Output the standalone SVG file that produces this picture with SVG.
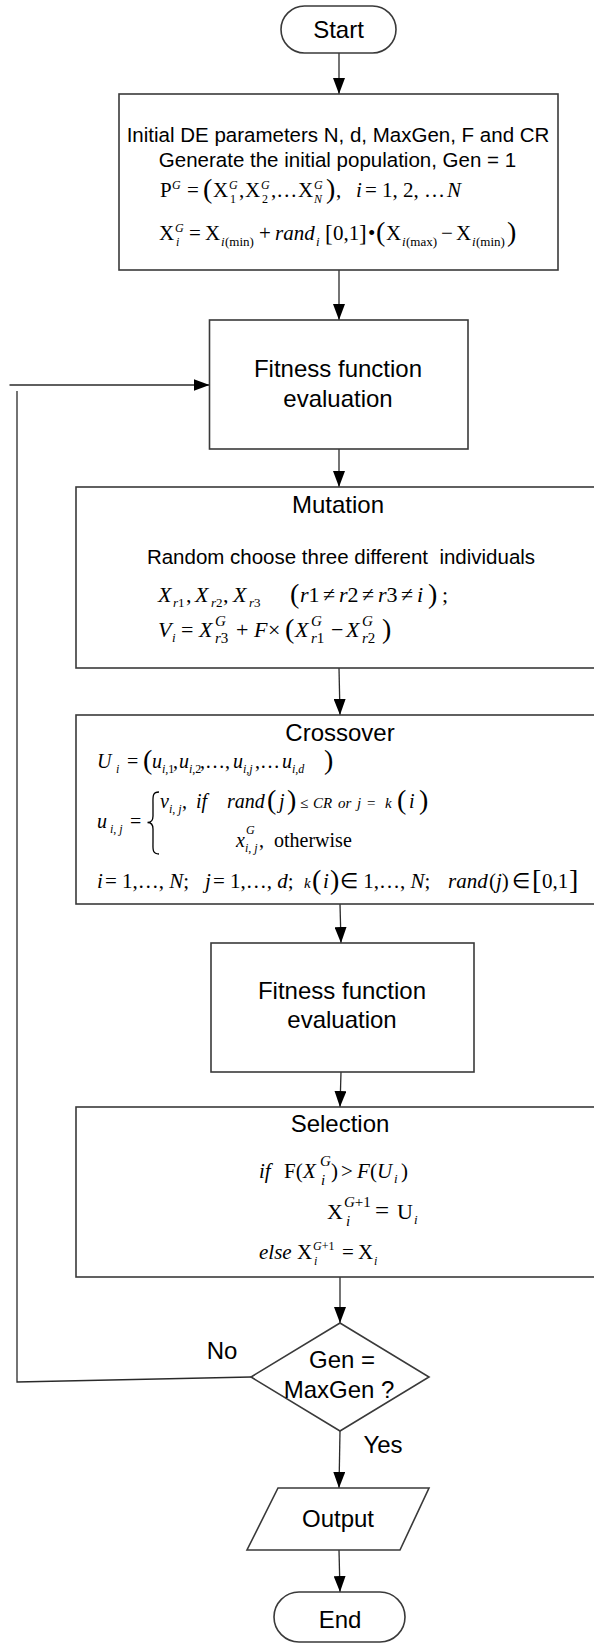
<svg xmlns="http://www.w3.org/2000/svg" width="594" height="1643" viewBox="0 0 594 1643">
<defs>
<marker id="arr" markerUnits="userSpaceOnUse" markerWidth="16" markerHeight="12" refX="16" refY="6" orient="auto">
<path d="M0,0 L16,6 L0,12 Z" fill="#000"/>
</marker>
<style>
.box{fill:#fff;stroke:#3a3a3a;stroke-width:1.6}
.conn{fill:none;stroke:#2a2a2a;stroke-width:1.3}
.lbl{font-family:"Liberation Sans",Arial,sans-serif;font-size:24px;fill:#000;text-anchor:middle}
.txt{font-family:"Liberation Sans",Arial,sans-serif;font-size:20.5px;fill:#000;text-anchor:middle;white-space:pre}
.m{font-family:"Liberation Serif","Times New Roman",serif;font-size:20px;fill:#000}
.m21{font-size:21px}
.m22{font-size:22px}
.it{font-style:italic}
.sm{font-size:12px}
.s13{font-size:13px}
.sb{font-size:15px}
.big{font-size:28px}
.br{font-size:23px}
.s15{font-size:15px}
</style>
</defs>

<g id="connectors">
<line class="conn" x1="339" y1="53" x2="339" y2="94" marker-end="url(#arr)"/>
<line class="conn" x1="339" y1="270" x2="339" y2="320" marker-end="url(#arr)"/>
<line class="conn" x1="9.5" y1="385" x2="209.5" y2="385" marker-end="url(#arr)"/>
<polyline class="conn" points="17,391 17,1382 251,1377"/>
<line class="conn" x1="339" y1="449" x2="339" y2="487" marker-end="url(#arr)"/>
<line class="conn" x1="339" y1="668" x2="340" y2="715" marker-end="url(#arr)"/>
<line class="conn" x1="340" y1="904" x2="341" y2="943" marker-end="url(#arr)"/>
<line class="conn" x1="341" y1="1072" x2="340" y2="1107" marker-end="url(#arr)"/>
<line class="conn" x1="340" y1="1277" x2="340" y2="1323" marker-end="url(#arr)"/>
<line class="conn" x1="340" y1="1431" x2="339" y2="1488" marker-end="url(#arr)"/>
<line class="conn" x1="339" y1="1550" x2="340" y2="1592" marker-end="url(#arr)"/>
</g>

<g id="start">
<rect class="box" x="281" y="6" width="115" height="47" rx="23.5"/>
<text class="lbl" x="338.5" y="38">Start</text>
</g>

<g id="init">
<rect class="box" x="119" y="94" width="439" height="176"/>
<text class="txt" x="338" y="142">Initial DE parameters N, d, MaxGen, F and CR</text>
<text class="txt" x="337.5" y="167">Generate the initial population, Gen = 1</text>
<text class="m m21">
<tspan x="160" y="197">P</tspan>
<tspan class="sm it" x="172" y="189">G</tspan>
<tspan x="187" y="197">=</tspan>
<tspan class="big" x="203" y="198">(</tspan>
<tspan x="213" y="197">X</tspan>
<tspan class="sm it" x="229" y="189">G</tspan>
<tspan class="sm" x="230" y="203">1</tspan>
<tspan x="239" y="197">,</tspan>
<tspan x="245" y="197">X</tspan>
<tspan class="sm it" x="261" y="189">G</tspan>
<tspan class="sm" x="262" y="203">2</tspan>
<tspan x="271" y="197">,…</tspan>
<tspan x="298" y="197">X</tspan>
<tspan class="sm it" x="314" y="189">G</tspan>
<tspan class="sm it" x="314" y="203">N</tspan>
<tspan class="big" x="326" y="198">)</tspan>
<tspan x="336" y="197">,</tspan>
<tspan class="it" x="356" y="197">i</tspan>
<tspan x="365" y="197">=</tspan>
<tspan x="382" y="197">1, 2, …</tspan>
<tspan class="it" x="447" y="197">N</tspan>
</text>
<text class="m m21">
<tspan x="159" y="240">X</tspan>
<tspan class="sm it" x="175" y="232">G</tspan>
<tspan class="sm it" x="176" y="246">i</tspan>
<tspan x="189" y="240">=</tspan>
<tspan x="205" y="240">X</tspan>
<tspan class="s13 it" x="221" y="246">i</tspan>
<tspan class="s13" x="225" y="246">(min)</tspan>
<tspan x="259" y="240">+</tspan>
<tspan class="it" x="275" y="240">rand</tspan>
<tspan class="s13 it" x="316" y="246">i</tspan>
<tspan class="br" x="325" y="241">[</tspan>
<tspan x="333" y="240">0,1</tspan>
<tspan class="br" x="359" y="241">]</tspan>
<tspan x="368" y="240">•</tspan>
<tspan class="big" x="376" y="241">(</tspan>
<tspan x="386" y="240">X</tspan>
<tspan class="s13 it" x="402" y="246">i</tspan>
<tspan class="s13" x="406" y="246">(max)</tspan>
<tspan x="441" y="240">−</tspan>
<tspan x="456" y="240">X</tspan>
<tspan class="s13 it" x="472" y="246">i</tspan>
<tspan class="s13" x="476" y="246">(min)</tspan>
<tspan class="big" x="507" y="241">)</tspan>
</text>
</g>

<g id="fitness1">
<rect class="box" x="209.5" y="320" width="258.5" height="129"/>
<text class="lbl" x="338" y="377">Fitness function</text>
<text class="lbl" x="338" y="407">evaluation</text>
</g>

<g id="mutation">
<rect class="box" x="76" y="487" width="540" height="181"/>
<text class="lbl" x="338" y="513">Mutation</text>
<text class="txt" x="341" y="564">Random choose three different  individuals</text>
<text class="m m22">
<tspan class="it" x="158" y="602">X</tspan>
<tspan class="s13 it" x="173" y="607">r</tspan><tspan class="s13" y="607">1</tspan>
<tspan x="186" y="602">,</tspan>
<tspan class="it" x="195" y="602">X</tspan>
<tspan class="s13 it" x="211" y="607">r</tspan><tspan class="s13" y="607">2</tspan>
<tspan x="223" y="602">,</tspan>
<tspan class="it" x="233" y="602">X</tspan>
<tspan class="s13 it" x="249" y="607">r</tspan><tspan class="s13" y="607">3</tspan>
<tspan class="big" x="290" y="603">(</tspan>
<tspan class="it" x="300" y="602">r</tspan><tspan y="602">1</tspan>
<tspan x="323" y="602">≠</tspan>
<tspan class="it" x="339" y="602">r</tspan><tspan y="602">2</tspan>
<tspan x="362" y="602">≠</tspan>
<tspan class="it" x="378" y="602">r</tspan><tspan y="602">3</tspan>
<tspan x="401" y="602">≠</tspan>
<tspan class="it" x="417" y="602">i</tspan>
<tspan class="big" x="428" y="603">)</tspan>
<tspan x="442" y="602">;</tspan>
</text>
<text class="m m22">
<tspan class="it" x="158" y="637">V</tspan>
<tspan class="s13 it" x="172" y="642">i</tspan>
<tspan x="181" y="637">=</tspan>
<tspan class="it" x="199" y="637">X</tspan>
<tspan class="sb it" x="215" y="626">G</tspan>
<tspan class="sb it" x="215" y="643">r</tspan><tspan class="sb" y="643">3</tspan>
<tspan x="236" y="637">+</tspan>
<tspan class="it" x="254" y="637">F</tspan>
<tspan x="268" y="637">×</tspan>
<tspan class="big" x="285" y="638">(</tspan>
<tspan class="it" x="295" y="637">X</tspan>
<tspan class="sb it" x="311" y="626">G</tspan>
<tspan class="sb it" x="311" y="643">r</tspan><tspan class="sb" y="643">1</tspan>
<tspan x="331" y="637">−</tspan>
<tspan class="it" x="346" y="637">X</tspan>
<tspan class="sb it" x="362" y="626">G</tspan>
<tspan class="sb it" x="362" y="643">r</tspan><tspan class="sb" y="643">2</tspan>
<tspan class="big" x="382" y="638">)</tspan>
</text>
</g>

<g id="crossover">
<rect class="box" x="76" y="715" width="540" height="189"/>
<text class="lbl" x="340" y="741">Crossover</text>
<text class="m">
<tspan class="it" x="97" y="768">U</tspan>
<tspan class="sm it" x="116" y="773">i</tspan>
<tspan x="127" y="768">=</tspan>
<tspan class="big" x="143" y="769">(</tspan>
<tspan class="it" x="152" y="768">u</tspan>
<tspan class="sm it" x="162" y="773">i</tspan><tspan class="sm" y="773">,1</tspan>
<tspan x="173" y="768">,</tspan>
<tspan class="it" x="179" y="768">u</tspan>
<tspan class="sm it" x="189" y="773">i</tspan><tspan class="sm" y="773">,2</tspan>
<tspan x="200" y="768">,…,</tspan>
<tspan class="it" x="233" y="768">u</tspan>
<tspan class="sm it" x="243" y="773">i</tspan><tspan class="sm" y="773">,</tspan><tspan class="sm it" y="773">j</tspan>
<tspan x="255" y="768">,…</tspan>
<tspan class="it" x="282" y="768">u</tspan>
<tspan class="sm it" x="292" y="773">i</tspan><tspan class="sm" y="773">,</tspan><tspan class="sm it" y="773">d</tspan>
<tspan class="big" x="324" y="769">)</tspan>
</text>
<text class="m">
<tspan class="it" x="97" y="828">u</tspan>
<tspan class="sm it" x="110" y="833">i</tspan><tspan class="sm" y="833">, </tspan><tspan class="sm it" y="833">j</tspan>
<tspan x="130" y="828">=</tspan>
</text>
<path d="M159,792 C152,792 153,797 153,804 L153,816 C153,820 151,822.5 147.5,822.5 C151,822.5 153,825 153,829 L153,842 C153,849 152,854 159,854" fill="none" stroke="#000" stroke-width="1.3"/>
<text class="m">
<tspan class="it" x="160" y="808">v</tspan>
<tspan class="sm it" x="169" y="813">i</tspan><tspan class="sm" y="813">, </tspan><tspan class="sm it" y="813">j</tspan>
<tspan x="182" y="808">,</tspan>
<tspan class="it" x="196" y="808">if</tspan>
<tspan class="it" x="227" y="808">rand</tspan>
<tspan class="big" x="267" y="809">(</tspan>
<tspan class="it" x="279" y="808">j</tspan>
<tspan class="big" x="287" y="809">)</tspan>
<tspan class="s15" x="300" y="808">≤</tspan>
<tspan class="s15 it" x="313" y="808">CR</tspan>
<tspan class="s15 it" x="338" y="808">or</tspan>
<tspan class="s15 it" x="357" y="808">j</tspan>
<tspan class="s15" x="367" y="808">=</tspan>
<tspan class="s15 it" x="385" y="808">k</tspan>
<tspan class="big" x="397" y="809">(</tspan>
<tspan class="it" x="409" y="808">i</tspan>
<tspan class="big" x="419" y="809">)</tspan>
</text>
<text class="m">
<tspan class="it" x="236" y="847">x</tspan>
<tspan class="sm it" x="246" y="834">G</tspan>
<tspan class="sm it" x="245" y="852">i</tspan><tspan class="sm" y="852">, </tspan><tspan class="sm it" y="852">j</tspan>
<tspan x="259" y="847">,</tspan>
<tspan x="274" y="847">otherwise</tspan>
</text>
<text class="m m21">
<tspan class="it" x="97" y="888">i</tspan>
<tspan x="105" y="888">= 1,…, </tspan><tspan class="it" y="888">N</tspan><tspan y="888">;</tspan>
<tspan class="it" x="205" y="888">j</tspan>
<tspan x="213" y="888">= 1,…, </tspan><tspan class="it" y="888">d</tspan><tspan y="888">;</tspan>
<tspan class="s15 it" x="304" y="888">k</tspan>
<tspan class="big" x="312" y="889">(</tspan>
<tspan class="it" x="323" y="888">i</tspan>
<tspan class="big" x="330" y="889">)</tspan>
<tspan x="340" y="888">∈ 1,…, </tspan><tspan class="it" y="888">N</tspan><tspan y="888">;</tspan>
<tspan class="it" x="448" y="888">rand</tspan>
<tspan x="489" y="888">(</tspan><tspan class="it" y="888">j</tspan><tspan y="888">)</tspan>
<tspan x="512" y="888">∈</tspan>
<tspan class="big" x="532" y="889">[</tspan>
<tspan x="542" y="888">0,1</tspan>
<tspan class="big" x="569" y="889">]</tspan>
</text>
</g>

<g id="fitness2">
<rect class="box" x="211" y="943" width="263" height="129"/>
<text class="lbl" x="342" y="999">Fitness function</text>
<text class="lbl" x="342" y="1028">evaluation</text>
</g>

<g id="selection">
<rect class="box" x="76" y="1107" width="540" height="170"/>
<text class="lbl" x="340" y="1132">Selection</text>
<text class="m m21">
<tspan class="it" x="259" y="1178">if</tspan>
<tspan x="284" y="1178">F(</tspan>
<tspan class="it" x="303" y="1178">X</tspan>
<tspan class="sb it" x="320" y="1166">G</tspan>
<tspan class="sb it" x="321" y="1185">i</tspan>
<tspan x="331" y="1178">)</tspan>
<tspan x="341" y="1178">&gt;</tspan>
<tspan class="it" x="357" y="1178">F</tspan>
<tspan x="370" y="1178">(</tspan>
<tspan class="it" x="377" y="1178">U</tspan>
<tspan class="s13 it" x="394" y="1183">i</tspan>
<tspan x="401" y="1178">)</tspan>
</text>
<text class="m m22">
<tspan x="327" y="1219">X</tspan>
<tspan class="sb it" x="344" y="1207">G</tspan><tspan class="sb" y="1207">+1</tspan>
<tspan class="sb it" x="346" y="1226">i</tspan>
<tspan x="375" y="1219" style="font-size:25px">=</tspan>
<tspan x="397" y="1219">U</tspan>
<tspan class="s13 it" x="414" y="1224">i</tspan>
</text>
<text class="m m21">
<tspan class="it" x="259" y="1259">else</tspan>
<tspan x="297" y="1259">X</tspan>
<tspan class="sm it" x="313" y="1250">G</tspan><tspan class="sm" y="1250">+1</tspan>
<tspan class="sm it" x="314" y="1265">i</tspan>
<tspan x="342" y="1259">=</tspan>
<tspan x="358" y="1259">X</tspan>
<tspan class="sm it" x="374" y="1265">i</tspan>
</text>
</g>

<g id="decision">
<polygon class="box" points="340,1323 429,1377 340,1431 251,1377"/>
<text class="lbl" x="342" y="1368">Gen =</text>
<text class="lbl" x="339" y="1398">MaxGen ?</text>
</g>
<g id="label-no"><text class="lbl" x="222" y="1359">No</text></g>
<g id="label-yes"><text class="lbl" x="383" y="1453">Yes</text></g>

<g id="output">
<polygon class="box" points="278,1488 429,1488 400,1550 247,1550"/>
<text class="lbl" x="338" y="1527">Output</text>
</g>

<g id="end">
<rect class="box" x="274" y="1592" width="131" height="50" rx="25"/>
<text class="lbl" x="340" y="1628">End</text>
</g>
</svg>
